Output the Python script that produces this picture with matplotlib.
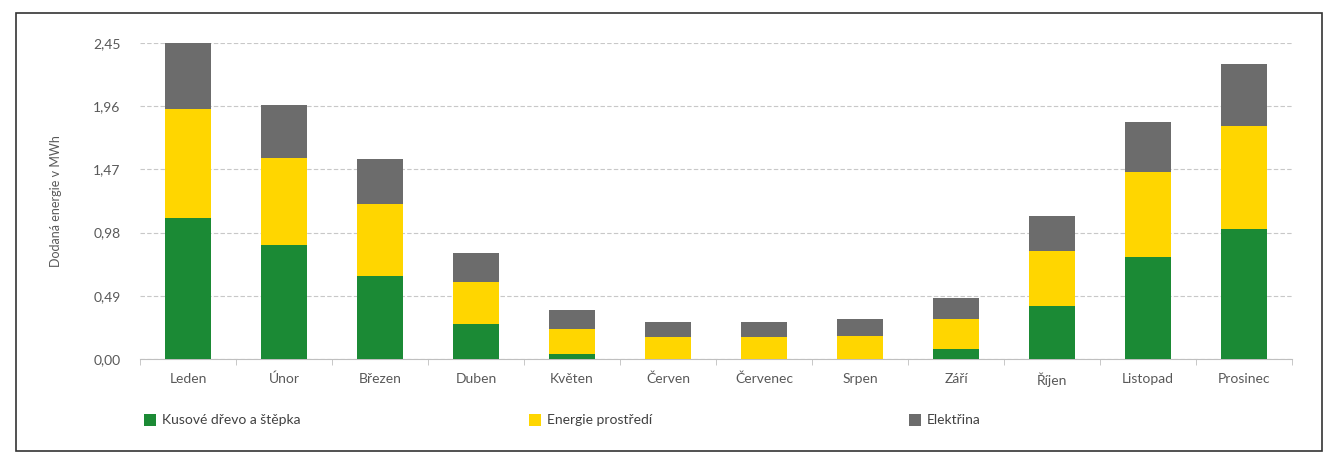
import matplotlib
matplotlib.use('Agg')
import matplotlib.pyplot as plt
from matplotlib.patches import Rectangle

plt.rcParams['font.family'] = ['Lato', 'DejaVu Sans']

# Data (MWh)
mesice = ['Leden', 'Únor', 'Březen', 'Duben', 'Květen', 'Červen', 'Červenec',
          'Srpen', 'Září', 'Říjen', 'Listopad', 'Prosinec']
drevo = [1.09, 0.88, 0.64, 0.27, 0.04, 0.00, 0.00, 0.00, 0.08, 0.41, 0.79, 1.01]
prostredi = [0.85, 0.68, 0.56, 0.33, 0.19, 0.17, 0.17, 0.18, 0.23, 0.43, 0.66, 0.80]
elektrina = [0.51, 0.41, 0.35, 0.22, 0.15, 0.12, 0.12, 0.13, 0.16, 0.27, 0.39, 0.48]
yticks = [0.00, 0.49, 0.98, 1.47, 1.96, 2.45]

c_green = '#1b8a35'
c_yellow = '#ffd600'
c_gray = '#6c6c6c'
c_text = '#595959'

fig = plt.figure(figsize=(13.27, 4.54), dpi=100)
ax = fig.add_axes([140 / 1327, 1 - 359 / 454, 1152 / 1327, 316 / 454])

x = list(range(len(mesice)))
w = 0.48
bottom2 = [a for a in drevo]
bottom3 = [a + b for a, b in zip(drevo, prostredi)]
b1 = ax.bar(x, drevo, w, color=c_green, label='Kusové dřevo a štěpka', zorder=3)
b2 = ax.bar(x, prostredi, w, bottom=bottom2, color=c_yellow, label='Energie prostředí', zorder=3)
b3 = ax.bar(x, elektrina, w, bottom=bottom3, color=c_gray, label='Elektřina', zorder=3)

ax.set_xlim(-0.5, len(mesice) - 0.5)
ax.set_ylim(0, 2.45)
ax.set_yticks(yticks)
ax.set_yticklabels([f'{v:.2f}'.replace('.', ',') for v in yticks])
ax.set_xticks(x)
ax.set_xticklabels(mesice)
ax.set_xticks([i + 0.5 for i in range(-1, len(mesice))], minor=True)
ax.tick_params(axis='x', which='major', length=0, pad=10, colors=c_text, labelsize=10)
ax.tick_params(axis='x', which='minor', length=4, color='#bfbfbf')
ax.tick_params(axis='y', length=0, pad=14, colors=c_text, labelsize=10)
ax.yaxis.grid(True, color='#c8c8c8', linestyle=(0, (4, 2)), linewidth=0.8, zorder=0)
for s in ['top', 'right', 'left']:
    ax.spines[s].set_visible(False)
ax.spines['bottom'].set_color('#bfbfbf')
ax.set_ylabel('Dodaná energie v MWh', color=c_text, fontsize=9, labelpad=22)

# legend entries spaced as in the original
for handle, lx in zip([b1, b2, b3], [138, 523, 903]):
    fig.legend([handle], [handle.get_label()], loc='center left',
               bbox_to_anchor=(lx / 1327, 1 - 420 / 454), frameon=False,
               fontsize=10, labelcolor='#404040', handlelength=0.9,
               handleheight=1.0, handletextpad=0.4, borderaxespad=0)

fig.patches.append(Rectangle((16 / 1327, 1 - 451 / 454), 1306 / 1327, 438 / 454,
                             transform=fig.transFigure, fill=False,
                             edgecolor='#333333', linewidth=1.2))

fig.savefig('out.png', dpi=100)
